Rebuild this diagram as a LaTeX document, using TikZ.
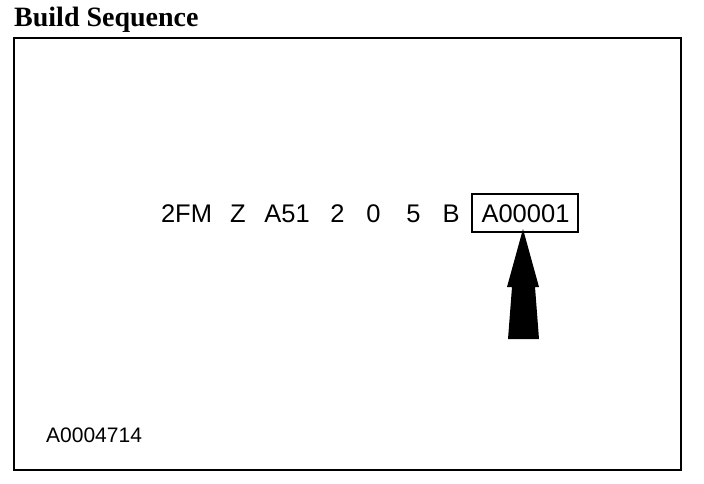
\documentclass[tikz,border=0pt]{standalone}
\usepackage{fontspec}
\setmainfont{Liberation Serif}
\newfontfamily\arialf{Liberation Sans}
\begin{document}
\begin{tikzpicture}[x=1pt,y=-1pt,
  code/.style={font=\arialf\fontsize{25.5}{25.5}\selectfont, inner sep=0pt, anchor=base},
  small/.style={font=\arialf\fontsize{21}{21}\selectfont, inner sep=0pt, anchor=base west},
  titlef/.style={font=\bfseries\fontsize{28}{28}\selectfont, inner sep=0pt, anchor=base west}]
\useasboundingbox (0,0) rectangle (704,484);
\node[titlef] (title) at (14,27) {Build Sequence};
\draw[line width=2pt] (14,38) rectangle (681,470);
\node[code] (t1) at (186.5,222) {2FM};
\node[code] (t2) at (238,222) {Z};
\node[code] (t3) at (287,222) {A51};
\node[code] (t4) at (337.5,222) {2};
\node[code] (t5) at (373.5,222) {0};
\node[code] (t6) at (413.5,222) {5};
\node[code] (t7) at (451,222) {B};
\node[code] (t8) at (525.5,222) {A00001};
\node[draw, line width=2pt, minimum width=106pt, minimum height=38pt, inner sep=0pt] (box) at (525,212.5) {};
\node[small] (label) at (46,442) {A0004714};
\fill (523,229) -- (539,287) -- (535,287) -- (539,339) -- (508,339) -- (512,287) -- (507,287) -- cycle;
\end{tikzpicture}
\end{document}
